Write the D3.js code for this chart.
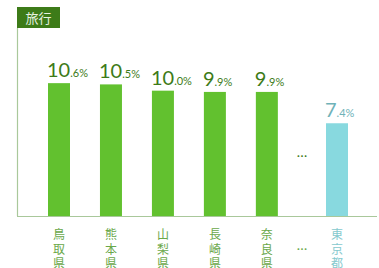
<!DOCTYPE html>
<html>
<head>
<meta charset="utf-8">
<script src="https://cdn.jsdelivr.net/npm/d3@7"></script>
<style>
  body { margin: 0; background: #fff; }
  svg { display: block; }
</style>
</head>
<body>
<svg id="chart" width="379" height="268"></svg>
<script>
// data
const categories = ["鳥取県", "熊本県", "山梨県", "長崎県", "奈良県", "東京都"];
const values = [10.6, 10.5, 10.0, 9.9, 9.9, 7.4];
const highlight = [false, false, false, false, false, true];
const title = "旅行";

const green = "#62c12f";
const teal = "#88d9df";
const darkGreen = "#3d7b18";
const axisColor = "#a9c89b";

const svg = d3.select("#chart");
const margin = { top: 28, left: 17, right: 2, bottom: 52 };
const width = 379, height = 268;
const base = height - margin.bottom;

// index position; Tokyo sits after a gap (the "…" column)
const pos = (i) => (i < 5 ? i : 5.35);
const x = d3.scaleLinear().domain([0, 5.35]).range([59, 337]);
const barW = 22;

const y = d3.scaleLinear().domain([0, 15]).range([base, margin.top]);

// axes
svg.append("line")
  .attr("x1", margin.left + 0.5).attr("x2", margin.left + 0.5)
  .attr("y1", margin.top).attr("y2", base)
  .attr("stroke", axisColor).attr("stroke-width", 1.2);
svg.append("line")
  .attr("x1", margin.left).attr("x2", width - margin.right)
  .attr("y1", base + 0.5).attr("y2", base + 0.5)
  .attr("stroke", axisColor).attr("stroke-width", 1.2);

// title box
svg.append("rect")
  .attr("x", 17).attr("y", 7).attr("width", 43).attr("height", 21)
  .attr("fill", darkGreen);
svg.append("text")
  .attr("x", 38.5).attr("y", 22.5)
  .attr("text-anchor", "middle")
  .attr("font-family", "Noto Sans CJK JP")
  .attr("font-size", 13)
  .attr("fill", "#e8f2e0")
  .text(title);

const data = categories.map((c, i) => ({ c, v: values[i], hl: highlight[i], i }));

// bars
svg.selectAll(".bar").data(data).enter().append("rect")
  .attr("class", "bar")
  .attr("x", (d) => x(pos(d.i)) - barW / 2)
  .attr("y", (d) => y(d.v))
  .attr("width", barW)
  .attr("height", (d) => base - y(d.v))
  .attr("fill", (d) => (d.hl ? teal : green));

// value labels
const lab = svg.selectAll(".val").data(data).enter().append("text")
  .attr("class", "val")
  .attr("x", (d) => x(pos(d.i)) - barW / 2 - 1)
  .attr("y", (d) => y(d.v) - 6)
  .attr("font-family", "Lato")
  .attr("fill", (d) => (d.hl ? "#6fb2b8" : darkGreen));
lab.append("tspan")
  .attr("font-size", 20)
  .text((d) => Math.floor(d.v));
lab.append("tspan")
  .attr("font-size", 11)
  .text((d) => "." + Math.round((d.v % 1) * 10) + "%");

// category labels, stacked vertically
data.forEach((d) => {
  const t = svg.append("text")
    .attr("text-anchor", "middle")
    .attr("font-family", "Noto Sans CJK JP")
    .attr("font-size", 12)
    .attr("fill", d.hl ? "#86c9ce" : "#6aa84a");
  Array.from(d.c).forEach((ch, k) => {
    t.append("tspan")
      .attr("x", x(pos(d.i)))
      .attr("y", base + 23 + k * 14.5)
      .text(ch);
  });
});

// ellipsis marks
const mid = x((4 + 5.35) / 2);
svg.append("text")
  .attr("x", mid).attr("y", 157)
  .attr("text-anchor", "middle")
  .attr("font-family", "Lato").attr("font-size", 14)
  .attr("fill", darkGreen).text("…");
svg.append("text")
  .attr("x", mid).attr("y", 250)
  .attr("text-anchor", "middle")
  .attr("font-family", "Lato").attr("font-size", 14)
  .attr("fill", "#6aa84a").text("…");
</script>
</body>
</html>
